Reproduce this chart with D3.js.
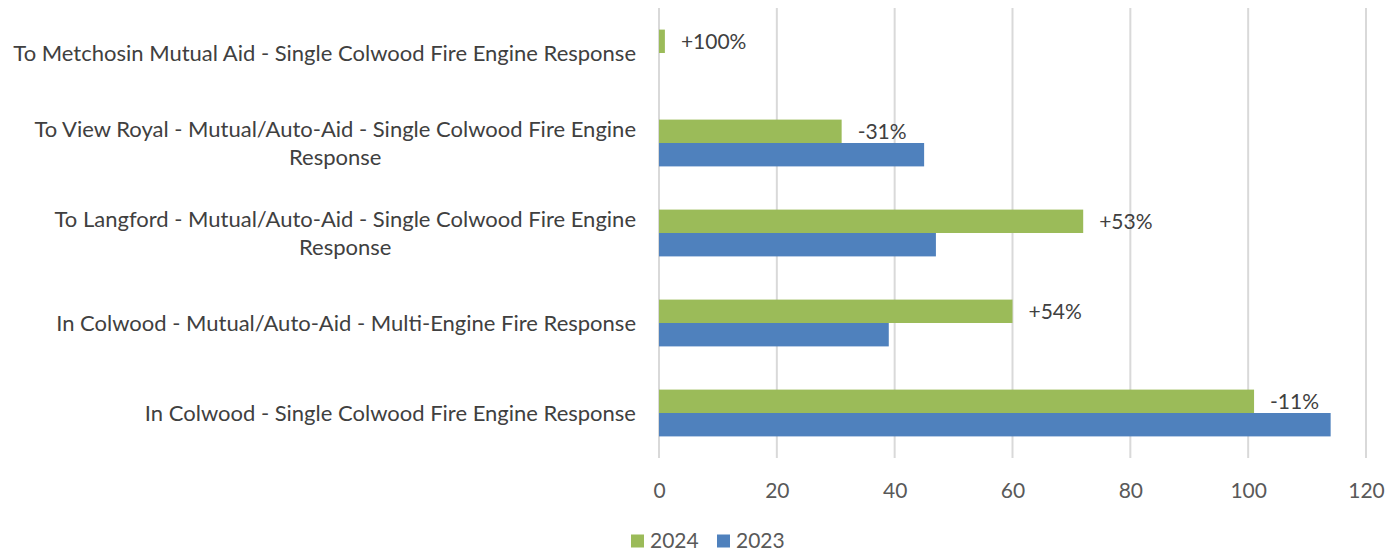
<!DOCTYPE html>
<html>
<head>
<meta charset="utf-8">
<script src="https://cdn.jsdelivr.net/npm/d3@7"></script>
<style>
  html, body { margin: 0; padding: 0; background: #ffffff; }
  svg { display: block; }
</style>
</head>
<body>
<svg id="chart" width="1400" height="554"></svg>
<script>
// Response categories, top to bottom ("\n" marks a line break in the label)
const categories = [
  "To Metchosin Mutual Aid - Single Colwood Fire Engine Response",
  "To View Royal - Mutual/Auto-Aid - Single Colwood Fire Engine\nResponse",
  "To Langford - Mutual/Auto-Aid - Single Colwood Fire Engine\nResponse",
  "In Colwood - Mutual/Auto-Aid - Multi-Engine Fire Response",
  "In Colwood - Single Colwood Fire Engine Response"
];
const values2024 = [1, 31, 72, 60, 101];
const values2023 = [0, 45, 47, 39, 114];
const changeLabels = ["+100%", "-31%", "+53%", "+54%", "-11%"];
const seriesNames = ["2024", "2023"];
const seriesColors = ["#9BBB59", "#4F81BD"];
const xTicks = [0, 20, 40, 60, 80, 100, 120];

const svg = d3.select("#chart");
const font = "Lato, 'Open Sans', sans-serif";

const plotLeft = 659, plotRight = 1366, plotTop = 8, plotBottom = 458;

const x = d3.scaleLinear().domain([0, 120]).range([plotLeft, plotRight]);
const y = d3.scaleBand().domain(categories).range([plotTop, plotBottom]).paddingInner(0.48).paddingOuter(0.24);
const sub = d3.scaleBand().domain(seriesNames).range([0, y.bandwidth()]);

// vertical gridlines
svg.append("g")
  .selectAll("line")
  .data(xTicks)
  .join("line")
  .attr("x1", d => x(d)).attr("x2", d => x(d))
  .attr("y1", plotTop).attr("y2", plotBottom)
  .attr("stroke", "#D9D9D9")
  .attr("stroke-width", 2);

// bars
const rows = categories.map((c, i) => ({ cat: c, vals: [values2024[i], values2023[i]], label: changeLabels[i] }));
const groups = svg.append("g").selectAll("g")
  .data(rows)
  .join("g")
  .attr("transform", d => `translate(0,${y(d.cat)})`);

groups.selectAll("rect")
  .data(d => d.vals.map((v, k) => ({ v, k })))
  .join("rect")
  .attr("x", x(0))
  .attr("y", d => sub(seriesNames[d.k]))
  .attr("width", d => x(d.v) - x(0))
  .attr("height", sub.bandwidth())
  .attr("fill", d => seriesColors[d.k]);

// change labels next to the 2024 bars
groups.append("text")
  .attr("x", d => x(d.vals[0]) + 16)
  .attr("y", sub("2024") + sub.bandwidth() / 2)
  .attr("dy", "0.35em")
  .attr("font-family", font)
  .attr("font-size", 21)
  .attr("fill", "#404040")
  .text(d => d.label);

// category labels
const catG = svg.append("g");
categories.forEach(c => {
  const lines = c.split("\n");
  const cy = y(c) + y.bandwidth() / 2;
  const lh = 28;
  const t = catG.append("text")
    .attr("font-family", font)
    .attr("font-size", 22)
    .attr("fill", "#404040")
    .attr("text-anchor", "middle");
  lines.forEach((ln, i) => {
    t.append("tspan")
      .attr("x", 0)
      .attr("y", cy + (i - (lines.length - 1) / 2) * lh)
      .attr("dy", "0.35em")
      .text(ln);
  });
  // right-align the block, centring wrapped lines within it
  const w = t.node().getBBox().width;
  t.attr("transform", `translate(${636 - w / 2},0)`);
});

// x axis tick labels
const xAxis = d3.axisBottom(x).tickValues(xTicks).tickSize(0).tickPadding(0);
const ax = svg.append("g").attr("transform", `translate(0,${491})`).call(xAxis);
ax.select(".domain").remove();
ax.selectAll("text")
  .attr("dy", "0.35em")
  .attr("font-family", font)
  .attr("font-size", 21)
  .attr("fill", "#595959");

// legend
const legend = svg.append("g").attr("transform", "translate(631,541)");
const items = legend.selectAll("g")
  .data(seriesNames)
  .join("g")
  .attr("transform", (d, i) => `translate(${i * 86},0)`);
items.append("rect")
  .attr("x", 0).attr("y", -6.5)
  .attr("width", 13).attr("height", 13)
  .attr("fill", (d, i) => seriesColors[i]);
items.append("text")
  .attr("x", 19)
  .attr("dy", "0.35em")
  .attr("font-family", font)
  .attr("font-size", 21)
  .attr("fill", "#595959")
  .text(d => d);
</script>
</body>
</html>
